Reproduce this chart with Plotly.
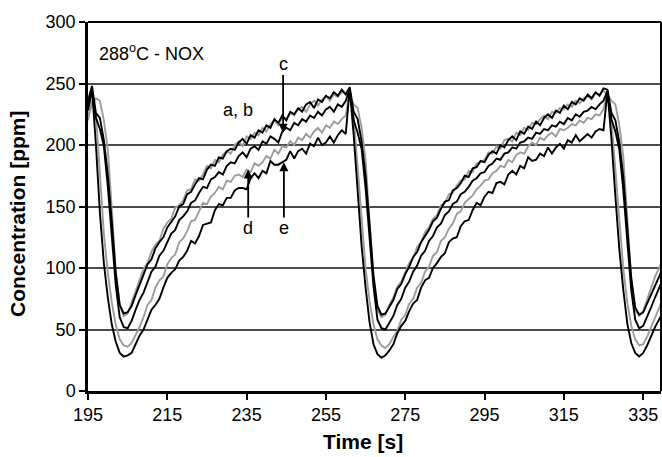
import plotly.graph_objects as go

time_s = list(range(195, 341))

conc_a = [236,
    248,226,222,204,176, 138,96,70,63,64, 69,78,86,95,103, 107,116,121,125,133, 138,142,150,152,160,
    162,168,173,172,180, 184,183,190,189,195, 197,196,202,205,201, 208,206,212,210,216, 214,221,218,224,220,
    227,225,230,227,233, 235,230,237,235,240, 238,243,240,245,241,
    247,227,221,203,175, 136,94,69,62,63, 68,74,83,87,95, 101,109,113,121,126, 131,138,141,148,154,
    155,163,165,169,175, 174,181,182,187,186, 192,195,193,200,198, 204,207,204,211,209, 215,213,219,216,222,
    225,222,228,226,232, 229,235,233,238,236, 241,238,243,240,246,
    245,226,220,202,174, 134,92,68,62,64, 71,79,86,93,100]

conc_b = [224,
    232,238,236,220,196, 148,98,70,61,63, 72,82,91,99,104, 113,119,122,132,137, 140,149,151,155,163,
    164,172,171,176,183, 181,188,186,192,195, 193,200,203,199,207, 205,210,208,214,211, 217,220,216,223,221,
    226,224,229,231,227, 233,236,232,237,240, 236,241,239,243,242,
    240,233,230,214,188, 138,88,66,60,62, 70,76,85,89,97, 104,108,117,121,129, 133,140,143,151,153,
    160,161,167,171,172, 179,178,185,186,188, 194,193,199,197,204, 205,203,210,208,214, 212,218,217,221,224,
    221,227,226,230,229, 233,231,236,234,238, 240,237,242,241,244,
    241,236,233,216,190, 140,90,66,61,65, 74,84,93,100,107]

conc_c = [228,
    244,222,213,199,166, 126,86,60,52,51, 57,66,74,80,89, 97,101,110,114,121, 128,131,139,142,146,
    153,155,161,166,165, 172,174,178,176,183, 186,185,191,194,190, 197,199,196,203,201, 207,205,202,211,214,
    212,218,216,221,219, 224,222,227,224,229, 231,227,233,231,236,
    245,220,210,197,165, 125,85,58,51,50, 55,61,70,75,84, 89,97,102,110,114, 122,126,133,136,143,
    146,152,154,160,162, 166,171,173,177,178, 183,185,189,188,193, 194,198,197,202,203, 206,205,210,209,213,
    212,216,215,219,217, 222,220,225,223,227, 228,231,229,233,236,
    244,221,211,196,163, 122,82,58,51,53, 60,68,76,84,91]

conc_d = [220,
    236,225,175,128,96, 72,54,42,37,36, 39,45,52,60,70, 74,84,90,93,103, 108,111,121,124,130,
    138,139,146,153,152, 158,161,166,164,171, 170,175,176,174,180, 178,185,183,186,191, 189,196,193,199,198,
    203,200,206,204,209, 206,211,214,210,216, 214,219,217,221,224,
    244,222,182,138,100, 73,54,42,37,35, 38,44,49,58,62, 71,75,84,88,97, 101,110,113,122,125,
    132,136,144,146,153, 156,159,164,167,171, 172,177,179,183,182, 188,186,192,194,193, 199,202,200,206,204,
    208,210,207,213,212, 214,217,216,220,218, 222,221,225,224,229,
    242,220,180,136,99, 72,53,42,37,38, 44,52,60,68,75]

conc_e = [232,
    246,200,145,104,76, 54,40,31,28,29, 31,38,45,50,58, 66,70,75,84,92, 96,99,106,109,114,
    122,120,126,135,136, 137,147,152,151,157, 157,163,165,165,164, 173,177,173,179,177, 187,184,184,186,188,
    195,189,195,197,193, 201,199,206,200,202, 207,202,208,212,209,
    246,208,160,118,84, 56,38,30,27,29, 33,38,47,53,57, 65,71,74,84,90, 92,100,104,109,112,
    121,124,125,134,138, 139,147,153,151,158, 162,161,169,170,168, 176,179,176,183,181, 190,187,188,193,191,
    198,193,198,201,197, 204,202,208,203,206, 209,206,211,213,212,
    244,205,158,115,82, 55,39,31,28,31, 37,45,52,58,64]

x_ticks = [195, 215, 235, 255, 275, 295, 315, 335]
y_ticks = [0, 50, 100, 150, 200, 250, 300]

BLACK = "#000000"
GRAY = "#9c9c9c"
FONT = "Liberation Sans, Arial, sans-serif"

fig = go.Figure()
series = [("b", conc_b, GRAY), ("d", conc_d, GRAY),
          ("a", conc_a, BLACK), ("c", conc_c, BLACK), ("e", conc_e, BLACK)]
for name, vals, col in series:
    fig.add_trace(go.Scatter(x=time_s, y=vals, mode="lines", name=name,
                             line=dict(color=col, width=1.9), showlegend=False))

fig.update_layout(
    width=662, height=457,
    margin=dict(l=88, r=1, t=22, b=66),
    paper_bgcolor="white", plot_bgcolor="white",
    font=dict(family=FONT, size=18, color="black"),
    showlegend=False,
)
fig.update_xaxes(range=[195, 339.5], tickvals=x_ticks, ticks="outside", ticklen=6,
                 tickwidth=2, tickcolor="black", showline=True, linewidth=2.5,
                 linecolor="black", showgrid=False, zeroline=False,
                 tickfont=dict(size=18, family=FONT))
fig.update_yaxes(range=[0, 300], tickvals=y_ticks, ticks="outside", ticklen=6,
                 tickwidth=2, tickcolor="black", showline=True, linewidth=2.5,
                 linecolor="black", showgrid=True, gridcolor="#4a4a4a", gridwidth=1.5,
                 zeroline=False, tickfont=dict(size=18, family=FONT))

# top and right frame lines
fig.add_shape(type="line", xref="paper", yref="paper", x0=0, x1=1, y0=1, y1=1,
              line=dict(color="black", width=2))
fig.add_shape(type="line", xref="paper", yref="paper", x0=1, x1=1, y0=0, y1=1,
              line=dict(color="black", width=2))

# axis titles
fig.add_annotation(text="<b>Concentration [ppm]</b>", xref="paper", yref="paper",
                   x=-0.122, y=0.48, textangle=-90, showarrow=False,
                   font=dict(size=21, family=FONT), xanchor="center", yanchor="middle")
fig.add_annotation(text="<b>Time [s]</b>", xref="paper", yref="paper",
                   x=0.48, y=-0.137, showarrow=False,
                   font=dict(size=21, family=FONT), xanchor="center", yanchor="middle")

# labels
fig.add_annotation(text="288<sup>o</sup>C - NOX", x=197.3, y=275.5, xanchor="left",
                   showarrow=False, font=dict(size=18, family=FONT))
fig.add_annotation(text="a, b", x=232.8, y=228.5, showarrow=False, font=dict(size=18, family=FONT))

arrow = dict(showarrow=True, arrowhead=2, arrowsize=1, arrowwidth=1.8, arrowcolor="black",
             axref="x", ayref="y", font=dict(size=18, family=FONT), borderpad=0)
fig.add_annotation(text="c", x=244.2, y=210, ax=244.2, ay=265.5, **arrow)
fig.add_annotation(text="d", x=235.4, y=180, ax=235.4, ay=132.5, **arrow)
fig.add_annotation(text="e", x=244.4, y=186, ax=244.4, ay=132.5, **arrow)

fig.write_html("out.html")
